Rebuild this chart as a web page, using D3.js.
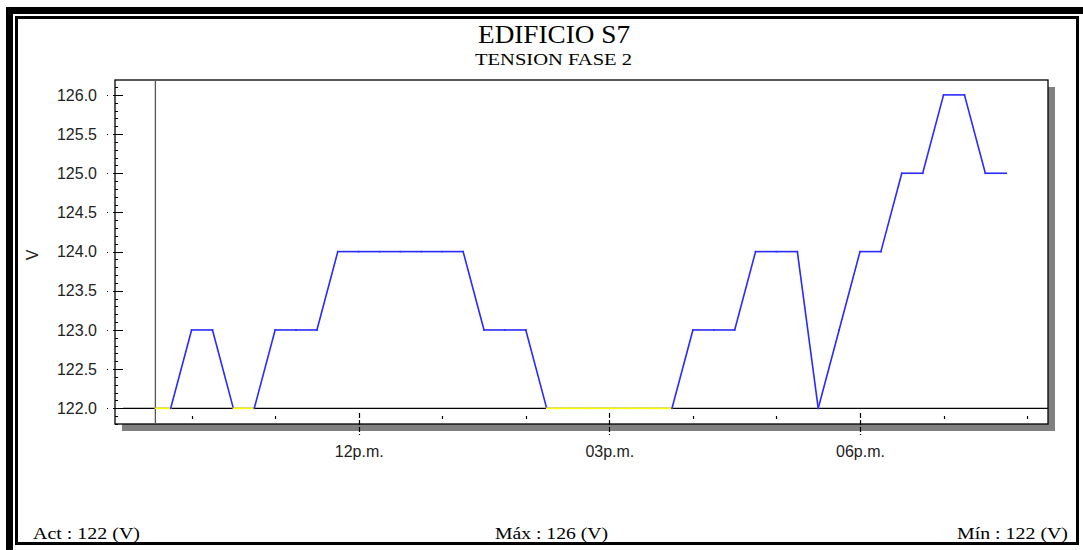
<!DOCTYPE html>
<html>
<head>
<meta charset="utf-8">
<script src="https://cdn.jsdelivr.net/npm/d3@7"></script>
<style>
html,body{margin:0;padding:0;background:#fff;}
svg{display:block;}
</style>
</head>
<body>
<script>
// ---- data ----
const times = ["09:34","09:45","10:00","10:15","10:30","10:45","11:00","11:15","11:30","11:45",
  "12:00","12:15","12:30","12:45","13:00","13:15","13:30","13:45","14:00","14:15",
  "14:30","14:45","15:00","15:15","15:30","15:45","16:00","16:15","16:30","16:45",
  "17:00","17:15","17:30","17:45","18:00","18:15","18:30","18:45","19:00","19:15",
  "19:30","19:45"];
const values = [122,122,123,123,122,122,123,123,123,124,
  124,124,124,124,124,124,123,123,123,122,
  122,122,122,122,122,122,123,123,123,124,
  124,124,122,123,124,124,125,125,126,126,
  125,125];
const yTicks = [122.0,122.5,123.0,123.5,124.0,124.5,125.0,125.5,126.0];
const xMajorHours = [12,15,18];
const xMajorLabels = ["12p.m.","03p.m.","06p.m."];
const xMinorHours = [10,11,13,14,16,17,19,20];
const title = "EDIFICIO S7";
const subtitle = "TENSION FASE 2";
const yLabel = "V";
const footer = ["Act : 122 (V)","Máx : 126 (V)","Mín : 122 (V)"];
const startHour = 9 + 34/60;

(function(){
const W = 1083, H = 550;
const svg = d3.select("body").append("svg").attr("width", W).attr("height", H);

const toHour = t => { const [h,m] = t.split(":").map(Number); return h + m/60; };
const data = times.map((t,i)=>({h: toHour(t), v: values[i]}));

const pL=115, pR=1048, pT=80, pB=424;
const x = d3.scaleLinear().domain([9 + 5/60, 20.25]).range([pL, pR]);
const y = d3.scaleLinear().domain([121.8, 126.19]).range([pB, pT]);

// ---- outer frame ----
svg.append("rect").attr("x",0).attr("y",0).attr("width",W).attr("height",H).attr("fill","#fff");
svg.append("rect").attr("x",9.5).attr("y",10.5).attr("width",1085).attr("height",550)
  .attr("fill","none").attr("stroke","#000").attr("stroke-width",7);
svg.append("rect").attr("x",16.5).attr("y",17.5).attr("width",1061).attr("height",526)
  .attr("fill","none").attr("stroke","#000").attr("stroke-width",3);

// ---- titles ----
svg.append("text").attr("x",554).attr("y",43).attr("text-anchor","middle")
  .attr("font-family","Liberation Serif, serif").attr("font-size",26).attr("fill","#000")
  .attr("textLength",152).attr("lengthAdjust","spacingAndGlyphs").text(title);
svg.append("text").attr("x",553.5).attr("y",65).attr("text-anchor","middle")
  .attr("font-family","Liberation Serif, serif").attr("font-size",16).attr("fill","#000")
  .attr("textLength",157).attr("lengthAdjust","spacingAndGlyphs").text(subtitle);

// ---- plot box with shadow ----
svg.append("rect").attr("x",pL+7).attr("y",pT+7).attr("width",pR-pL).attr("height",pB-pT)
  .attr("fill","#808080");
svg.append("rect").attr("x",pL).attr("y",pT).attr("width",pR-pL).attr("height",pB-pT)
  .attr("fill","#fff").attr("stroke","#000").attr("stroke-width",1.3);

// start marker vertical line
svg.append("line").attr("x1",x(startHour)).attr("x2",x(startHour)).attr("y1",pT).attr("y2",pB)
  .attr("stroke","#555").attr("stroke-width",1.3);

// baseline at 122
svg.append("line").attr("x1",123).attr("x2",pR).attr("y1",y(122)).attr("y2",y(122))
  .attr("stroke","#000").attr("stroke-width",1.3);

// ---- y axis ----
const minorY = d3.range(1218, 1262).map(d=>d/10);
svg.append("g").selectAll("line").data(minorY).join("line")
  .attr("x1",pL).attr("x2",pL+3).attr("y1",d=>Math.round(y(d))+0.5).attr("y2",d=>Math.round(y(d))+0.5)
  .attr("stroke","#000").attr("stroke-width",1);
svg.append("g").selectAll("line").data(yTicks).join("line")
  .attr("x1",107).attr("x2",123).attr("y1",d=>Math.round(y(d))+0.5).attr("y2",d=>Math.round(y(d))+0.5)
  .attr("stroke","#000").attr("stroke-width",1).attr("stroke-dasharray","1,5,10");
const yAxis = svg.append("g").attr("transform",`translate(${pL},0)`)
  .call(d3.axisLeft(y).tickValues(yTicks).tickFormat(d3.format(".1f")).tickSize(0).tickPadding(18));
yAxis.select(".domain").remove();
yAxis.selectAll("text").attr("font-family","Liberation Sans, Arial, sans-serif").attr("font-size",16)
  .attr("fill","#222");

svg.append("text").attr("transform",`translate(38,255) rotate(-90)`).attr("text-anchor","middle")
  .attr("font-family","Liberation Sans, Arial, sans-serif").attr("font-size",16).attr("fill","#222").text(yLabel);

// ---- x axis ----
svg.append("g").selectAll("line").data(xMinorHours).join("line")
  .attr("x1",d=>Math.round(x(d))+0.5).attr("x2",d=>Math.round(x(d))+0.5).attr("y1",416).attr("y2",419)
  .attr("stroke","#000").attr("stroke-width",1.2);
svg.append("g").selectAll("line").data(xMajorHours).join("line")
  .attr("x1",d=>Math.round(x(d))+0.5).attr("x2",d=>Math.round(x(d))+0.5).attr("y1",413).attr("y2",435)
  .attr("stroke","#000").attr("stroke-width",1.2).attr("stroke-dasharray","5,2");
const xAxis = svg.append("g").attr("transform",`translate(0,${pB})`)
  .call(d3.axisBottom(x).tickValues(xMajorHours).tickFormat((d,i)=>xMajorLabels[i]).tickSize(0).tickPadding(22));
xAxis.select(".domain").remove();
xAxis.selectAll("text").attr("font-family","Liberation Sans, Arial, sans-serif").attr("font-size",16)
  .attr("fill","#222");

// ---- data line ----
const minV = d3.min(values);
const segs = d3.pairs(data);
svg.append("g").selectAll("line").data(segs).join("line")
  .attr("x1",d=>x(d[0].h)).attr("y1",d=>y(d[0].v)).attr("x2",d=>x(d[1].h)).attr("y2",d=>y(d[1].v))
  .attr("stroke",d=>(d[0].v===minV && d[1].v===minV) ? "#ffff00" : "#2a2aff")
  .attr("stroke-width",1.6).attr("stroke-linecap","square");

// ---- footer ----
const fx = [[33,107],[495,113],[957,111]];
svg.append("g").selectAll("text").data(footer).join("text")
  .attr("x",(d,i)=>fx[i][0]).attr("y",539)
  .attr("font-family","Liberation Serif, serif").attr("font-size",17).attr("fill","#000")
  .attr("textLength",(d,i)=>fx[i][1]).attr("lengthAdjust","spacingAndGlyphs").text(d=>d);
})();
</script>
</body>
</html>
